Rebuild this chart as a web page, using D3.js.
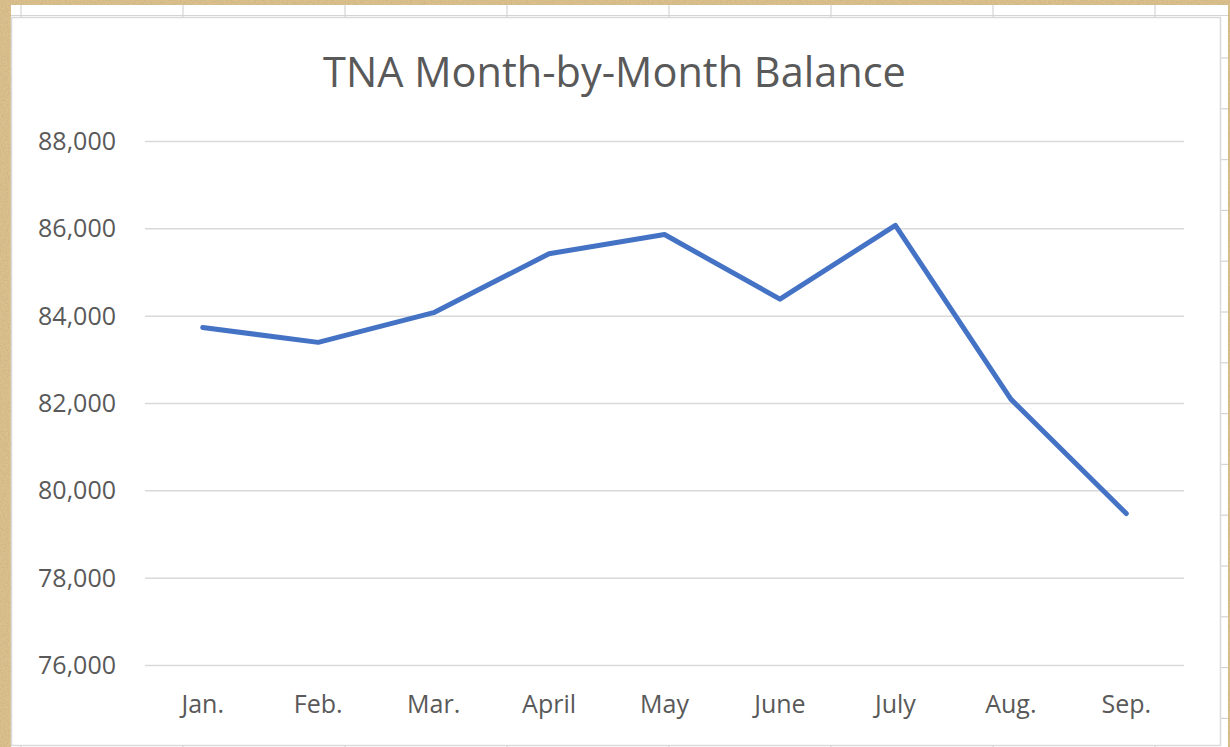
<!DOCTYPE html>
<html>
<head>
<meta charset="utf-8">
<script src="https://cdn.jsdelivr.net/npm/d3@7"></script>
<style>
  html, body { margin: 0; padding: 0; background: #d9bf8b; }
  svg { display: block; }
</style>
</head>
<body>
<svg id="chart" width="1230" height="747"></svg>
<script>
// ---- data ----
const months = ["Jan.", "Feb.", "Mar.", "April", "May", "June", "July", "Aug.", "Sep."];
const balances = [83740, 83400, 84080, 85430, 85870, 84390, 86080, 82100, 79480];
const yTicks = [76000, 78000, 80000, 82000, 84000, 86000, 88000];
const chartTitle = "TNA Month-by-Month Balance";

const W = 1230, H = 747;
const svg = d3.select("#chart");

// parchment background with texture
const defs = svg.append("defs");
const f = defs.append("filter").attr("id", "paper").attr("x", 0).attr("y", 0).attr("width", "100%").attr("height", "100%");
f.append("feTurbulence").attr("type", "fractalNoise").attr("baseFrequency", 0.7).attr("numOctaves", 3).attr("seed", 4).attr("result", "noise");
f.append("feColorMatrix").attr("in", "noise").attr("type", "matrix")
  .attr("values", "0 0 0 0 0.55  0 0 0 0 0.42  0 0 0 0 0.22  1.6 0 0 0 -0.55");
svg.append("rect").attr("width", W).attr("height", H).attr("fill", "#dcc18d");
svg.append("rect").attr("width", W).attr("height", H).attr("filter", "url(#paper)").attr("opacity", 0.8);

// spreadsheet cells area
svg.append("rect").attr("x", 11).attr("y", 5).attr("width", 1217).attr("height", 742).attr("fill", "#ffffff");
const grid = svg.append("g").attr("stroke", "#d4d4d4").attr("stroke-width", 1.2);
[21, 183, 345, 507, 669, 831, 993, 1155].forEach(x => {
  grid.append("line").attr("x1", x).attr("x2", x).attr("y1", 5).attr("y2", 17);
  grid.append("line").attr("x1", x).attr("x2", x).attr("y1", 745).attr("y2", 747);
});
grid.append("line").attr("x1", 11).attr("x2", 1228).attr("y1", 15.5).attr("y2", 15.5);
d3.range(0, 14).map(k => 58 + k * 50.8).forEach(y => {
  grid.append("line").attr("x1", 1221).attr("x2", 1228).attr("y1", y).attr("y2", y);
});

// chart box
svg.append("rect").attr("x", 11.5).attr("y", 17.5).attr("width", 1209).attr("height", 728)
  .attr("fill", "#ffffff").attr("stroke", "#d9d9d9").attr("stroke-width", 1.5);

// scales
const plot = { left: 145, right: 1184, top: 141.5, bottom: 665.5 };
const x = d3.scaleBand().domain(months).range([plot.left, plot.right]).padding(0);
const y = d3.scaleLinear().domain([76000, 88000]).range([plot.bottom, plot.top]);

// gridlines
svg.append("g")
  .selectAll("line").data(yTicks).join("line")
  .attr("x1", plot.left).attr("x2", plot.right)
  .attr("y1", d => y(d)).attr("y2", d => y(d))
  .attr("stroke", "#d9d9d9").attr("stroke-width", 1.5);

// y axis
const yAxis = d3.axisLeft(y).tickValues(yTicks).tickFormat(d3.format(",")).tickSize(0).tickPadding(0);
const gy = svg.append("g").attr("transform", `translate(116,0)`).call(yAxis);
gy.select(".domain").remove();
gy.selectAll("text").attr("fill", "#595959").style("font-family", "'Open Sans', sans-serif")
  .style("font-size", "25px").attr("dy", "0.32em");

// x axis
const xAxis = d3.axisBottom(x).tickSize(0).tickPadding(0);
const gx = svg.append("g").attr("transform", `translate(0,713)`).call(xAxis);
gx.select(".domain").remove();
gx.selectAll("text").attr("fill", "#595959").style("font-family", "'Open Sans', sans-serif")
  .style("font-size", "25px").attr("dy", 0);

// line
const line = d3.line().x((d, i) => x(months[i]) + x.bandwidth() / 2).y(d => y(d));
svg.append("path").datum(balances)
  .attr("d", line).attr("fill", "none")
  .attr("stroke", "#4472c4").attr("stroke-width", 5)
  .attr("stroke-linejoin", "round").attr("stroke-linecap", "round");

// title
const t = svg.append("text").attr("x", 614.5).attr("y", 87).attr("text-anchor", "middle")
  .attr("fill", "#595959").style("font-family", "'Open Sans', sans-serif").style("font-size", "40px")
  .text(chartTitle);
const tw = t.node().getComputedTextLength();
t.style("font-size", (40 * 583 / tw).toFixed(2) + "px");
</script>
</body>
</html>
